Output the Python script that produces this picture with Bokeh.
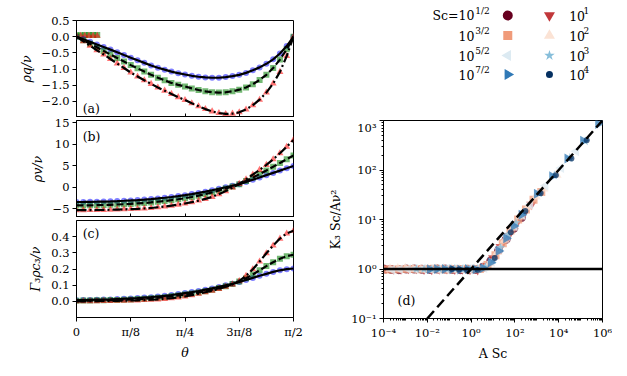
import numpy as np
from bokeh.plotting import figure
from bokeh.layouts import row, column
from bokeh.models import Range1d, FixedTicker, CustomJSTickFormatter, Label
from bokeh.core.properties import value
from bokeh.embed import file_html
from bokeh.resources import INLINE

FONT = "DejaVu Serif"

# ---------------- data: panels (a)-(c) ----------------
theta = np.linspace(0, np.pi / 2, 33)
theta_tick_labels = ["0", "π/8", "π/4", "3π/8", "π/2"]

q_blue = [0.0, -0.08, -0.16, -0.24, -0.32, -0.40, -0.48, -0.57, -0.65, -0.73, -0.81, -0.89, -0.96,
          -1.02, -1.08, -1.13, -1.17, -1.21, -1.24, -1.26, -1.27, -1.27, -1.25, -1.22, -1.18,
          -1.12, -1.04, -0.95, -0.84, -0.70, -0.52, -0.29, 0.0]
q_green = [0.0, -0.11, -0.22, -0.33, -0.44, -0.55, -0.66, -0.77, -0.88, -0.98, -1.08, -1.18, -1.27,
           -1.35, -1.43, -1.49, -1.54, -1.60, -1.65, -1.69, -1.72, -1.73, -1.72, -1.69, -1.64,
           -1.57, -1.47, -1.34, -1.18, -0.97, -0.71, -0.39, 0.0]
q_red = [0.0, -0.14, -0.28, -0.42, -0.55, -0.69, -0.83, -0.97, -1.11, -1.23, -1.35, -1.46, -1.57,
         -1.67, -1.77, -1.87, -1.96, -2.06, -2.15, -2.24, -2.31, -2.36, -2.39, -2.38, -2.34,
         -2.25, -2.12, -1.95, -1.73, -1.45, -1.09, -0.60, 0.0]
strip_theta = [0.0, 0.03, 0.06, 0.09, 0.12, 0.15]
strip_green = [0.04, 0.04, 0.05, 0.05, 0.05, 0.05]
strip_red = [0.03, 0.03, 0.03, 0.03, 0.03, 0.03]

v_blue = [-3.40, -3.39, -3.37, -3.34, -3.30, -3.25, -3.19, -3.12, -3.04, -2.95, -2.84, -2.72, -2.58,
          -2.42, -2.24, -2.04, -1.82, -1.57, -1.30, -1.00, -0.68, -0.34, 0.01, 0.37, 0.74,
          1.25, 1.77, 2.29, 2.82, 3.35, 3.88, 4.41, 4.95]
v_green = [-4.20, -4.19, -4.17, -4.14, -4.10, -4.05, -3.99, -3.92, -3.84, -3.74, -3.63, -3.50, -3.35,
           -3.18, -2.99, -2.77, -2.53, -2.25, -1.93, -1.57, -1.17, -0.74, -0.28, 0.21, 0.72,
           1.45, 2.25, 3.08, 3.92, 4.77, 5.64, 6.52, 7.40]
v_red = [-5.30, -5.29, -5.28, -5.26, -5.23, -5.20, -5.16, -5.11, -5.05, -4.98, -4.90, -4.80, -4.62,
         -4.45, -4.25, -4.02, -3.76, -3.45, -3.08, -2.68, -2.22, -1.60, -0.88, -0.06, 0.80,
         1.85, 2.95, 4.05, 5.20, 6.50, 7.90, 9.40, 11.00]

c_blue = [0.007, 0.008, 0.009, 0.010, 0.011, 0.012, 0.014, 0.016, 0.018, 0.020, 0.023, 0.026, 0.030,
          0.034, 0.039, 0.045, 0.051, 0.057, 0.064, 0.072, 0.080, 0.089, 0.099, 0.109, 0.120,
          0.132, 0.145, 0.158, 0.170, 0.182, 0.192, 0.199, 0.203]
c_green = [0.004, 0.005, 0.005, 0.006, 0.007, 0.008, 0.009, 0.010, 0.012, 0.014, 0.016, 0.019, 0.022,
           0.026, 0.031, 0.036, 0.042, 0.048, 0.055, 0.063, 0.072, 0.082, 0.093, 0.107, 0.123,
           0.143, 0.166, 0.192, 0.218, 0.242, 0.263, 0.279, 0.288]
c_red = [0.000, 0.000, 0.001, 0.001, 0.002, 0.002, 0.003, 0.004, 0.005, 0.006, 0.008, 0.010, 0.012,
         0.015, 0.019, 0.024, 0.030, 0.038, 0.047, 0.056, 0.065, 0.077, 0.090, 0.105, 0.125,
         0.158, 0.198, 0.246, 0.297, 0.345, 0.388, 0.420, 0.437]

# ---------------- data: panel (d) ----------------
sc_colors = ["#67001f", "#c1373a", "#f09b7a", "#fbe3d5", "#dceaf2", "#87beda", "#3079b6", "#053061"]
sc_markers = ["circle", "inverted_triangle", "square", "triangle", "triangle", "star", "triangle", "circle"]
sc_angles = [0.0, 0.0, 0.0, 0.0, np.pi / 2, 0.0, -np.pi / 2, 0.0]
sc_sizes = [10, 11, 9, 11, 11, 11, 11, 7]

d_x = [
    [1.0e-4, 2.2e-4, 5.0e-4, 1.1e-3, 2.5e-3, 5.6e-3, 1.3e-2, 2.8e-2, 6.3e-2, 0.14, 0.32, 0.71, 1.6, 3.5, 7.9, 18, 40, 89, 200],
    [1.3e-4, 2.8e-4, 6.3e-4, 1.4e-3, 3.2e-3, 7.1e-3, 1.6e-2, 3.5e-2, 7.9e-2, 0.18, 0.40, 0.89, 2.0, 4.5, 10, 22, 50, 112, 250, 560],
    [1.6e-4, 3.5e-4, 7.9e-4, 1.8e-3, 4.0e-3, 8.9e-3, 2.0e-2, 4.5e-2, 0.10, 0.22, 0.50, 1.1, 2.5, 5.6, 13, 28, 63, 141, 320, 710, 1600],
    [2.0e-4, 4.5e-4, 1.0e-3, 2.2e-3, 5.0e-3, 1.1e-2, 2.5e-2, 5.6e-2, 0.13, 0.28, 0.63, 1.4, 3.2, 7.1, 16, 35, 80, 178, 400, 890, 2000, 8000],
    [2.5e-4, 5.6e-4, 1.3e-3, 2.8e-3, 6.3e-3, 1.4e-2, 3.2e-2, 7.1e-2, 0.16, 0.35, 0.79, 1.8, 4.0, 8.9, 20, 45, 100, 224, 500, 2500, 1.3e4, 6.3e4],
    [3.2e-3, 7.1e-3, 1.6e-2, 3.5e-2, 7.9e-2, 0.18, 0.40, 0.89, 2.0, 4.5, 10, 22, 50, 112, 250, 1300, 6300, 3.2e4, 1.6e5],
    [1.3e-2, 2.8e-2, 6.3e-2, 0.14, 0.32, 0.71, 1.6, 3.5, 7.9, 18, 40, 89, 200, 1000, 5000, 2.5e4, 1.3e5, 6.3e5],
    [0.13, 0.28, 0.63, 2.0, 12, 65, 300, 1500, 7400, 3.8e4, 1.9e5, 1.0e6],
]
d_y = [
    [1.0, 0.98, 0.97, 1.0, 1.0, 0.99, 0.98, 1.0, 1.0, 0.98, 0.97, 0.99, 0.98, 1.08, 1.45, 2.4, 4.0, 6.6, 11],
    [1.03, 1.0, 1.0, 1.02, 1.02, 0.99, 0.98, 1.0, 1.01, 0.99, 1.0, 0.98, 0.97, 1.15, 1.65, 2.8, 4.6, 8.0, 13, 20],
    [0.98, 0.99, 1.0, 1.0, 0.99, 1.0, 1.01, 0.99, 0.98, 1.0, 1.0, 0.99, 1.0, 1.2, 1.9, 3.3, 6.0, 10, 16, 25, 36],
    [1.0, 1.01, 1.02, 0.99, 0.98, 1.0, 1.0, 1.01, 1.0, 0.99, 0.98, 1.0, 1.02, 1.3, 2.2, 3.9, 6.8, 11.5, 18, 29, 42, 80],
    [0.97, 0.99, 1.0, 1.0, 1.01, 0.99, 0.98, 1.0, 1.0, 1.0, 1.0, 1.0, 1.05, 1.4, 2.6, 4.6, 7.5, 12.5, 20, 48, 110, 240],
    [1.0, 0.99, 0.98, 1.0, 1.0, 1.01, 0.99, 1.0, 1.0, 1.1, 1.5, 2.7, 5.0, 8.6, 14, 34, 78, 175, 380],
    [0.99, 1.0, 1.0, 0.99, 0.98, 1.0, 0.99, 1.05, 1.35, 2.3, 4.2, 7.4, 12.5, 33, 75, 170, 390, 850],
    [1.0, 0.98, 0.97, 0.95, 1.66, 5.5, 14.8, 34, 78, 170, 400, 1000],
]
sqrt_line_x = [1.0e-2, 1.0e6]
sqrt_line_y = [1.0e-1, 1.0e3]
plateau_x = [1.0e-4, 1.0e6]
plateau_y = [1.0, 1.0]

leg1_base = ["Sc=10", "10", "10", "10"]
leg1_sup = ["1/2", "3/2", "5/2", "7/2"]
leg2_base = ["10", "10", "10", "10"]
leg2_sup = ["1", "2", "3", "4"]

# ---------------- helpers ----------------
def style_axes(p):
    p.grid.visible = False
    p.outline_line_color = "black"
    p.outline_line_width = 1
    p.outline_line_alpha = 1
    for ax in p.axis:
        ax.axis_line_color = "black"
        ax.major_tick_line_color = "black"
        ax.minor_tick_line_color = "black"
        ax.major_tick_in = 0
        ax.major_tick_out = 4
        ax.minor_tick_in = 0
        ax.minor_tick_out = 2
        ax.major_label_text_font = FONT
        ax.major_label_text_font_size = "11.5px"
        ax.major_label_text_color = "black"
        ax.major_label_standoff = 3
        ax.axis_label_text_font = FONT
        ax.axis_label_text_font_size = "12.5px"
        ax.axis_label_text_color = "black"
        ax.axis_label_standoff = 5


dec_fmt = CustomJSTickFormatter(code="""
const s = Math.abs(tick).toFixed(1);
return (tick < -1e-9 ? "\u2212" : "") + s;
""")
int_fmt = CustomJSTickFormatter(code="""
const s = Math.abs(tick).toFixed(0);
return (tick < -1e-9 ? "\u2212" : "") + s;
""")
theta_fmt = CustomJSTickFormatter(args=dict(labs=theta_tick_labels), code="""
const i = Math.round(tick / (Math.PI / 8));
return labs[i];
""")
blank_fmt = CustomJSTickFormatter(code="return '';")
pow_fmt = CustomJSTickFormatter(code="""
const sup = {"-":"\u207b","0":"\u2070","1":"\u00b9","2":"\u00b2","3":"\u00b3","4":"\u2074",
             "5":"\u2075","6":"\u2076","7":"\u2077","8":"\u2078","9":"\u2079"};
const e = Math.round(Math.log10(tick));
return "10" + String(e).split("").map(c => sup[c]).join("");
""")

theta_ticks = [0, np.pi / 8, np.pi / 4, 3 * np.pi / 8, np.pi / 2]


def left_panel(ylim, yticks, yfmt, ylabel, bottom, top, show_x):
    p = figure(frame_width=217, frame_height=97, output_backend="svg", toolbar_location=None,
               x_range=Range1d(0, np.pi / 2), y_range=Range1d(*ylim),
               min_border_left=76, min_border_right=30, min_border_top=top,
               min_border_bottom=bottom)
    style_axes(p)
    p.xaxis.ticker = FixedTicker(ticks=theta_ticks)
    p.yaxis.ticker = FixedTicker(ticks=yticks)
    p.yaxis.formatter = yfmt
    p.yaxis.axis_label = ylabel
    p.yaxis.axis_label_text_font_style = "italic"
    if show_x:
        p.xaxis.formatter = theta_fmt
        p.xaxis.axis_label = "θ"
        p.xaxis.axis_label_text_font_style = "italic"
        p.xaxis.axis_label_standoff = 3
    else:
        p.xaxis.formatter = blank_fmt
        p.xaxis.major_label_standoff = 0
        p.xaxis.major_label_text_font_size = "0px"
        p.xaxis.major_tick_in = 4
        p.xaxis.major_tick_out = 0
    return p


def add_series(p, yb, yg, yr):
    p.scatter(theta, yb, marker="circle", size=6, color="blue", alpha=0.5, line_width=0)
    p.scatter(theta, yg, marker="square", size=6, color="green", alpha=0.55, line_width=0)
    p.scatter(theta, yr, marker="triangle", size=7, color="red", alpha=0.55, line_width=0)
    p.line(theta, yb, line_color="black", line_width=2.2)
    p.line(theta, yg, line_color="black", line_width=2.2, line_dash="7 3")
    p.line(theta, yr, line_color="black", line_width=2.2, line_dash="10 3 2 3")


def panel_label(p, x, y, txt):
    p.add_layout(Label(x=x, y=y, text=txt, text_font=FONT, text_font_size="12.5px",
                       text_baseline="middle", text_color="black"))


pa = left_panel((-2.5, 0.5), [0.5, 0.0, -0.5, -1.0, -1.5, -2.0], dec_fmt, "ρq/ν", 0, 20, False)
pa.scatter(strip_theta, strip_green, marker="square", size=6, color="green", alpha=0.55, line_width=0)
pa.scatter(strip_theta, strip_red, marker="triangle", size=7, color="red", alpha=0.55, line_width=0)
add_series(pa, q_blue, q_green, q_red)
panel_label(pa, 0.045, -2.23, "(a)")

pb = left_panel((-7.0, 15.5), [-5, 0, 5, 10, 15], int_fmt, "ρv/ν", 0, 3, False)
add_series(pb, v_blue, v_green, v_red)
panel_label(pb, 0.045, 11.7, "(b)")

pc = left_panel((-0.1, 0.5), [0.0, 0.1, 0.2, 0.3, 0.4], dec_fmt, "Γ₃ρc₃/ν", 38, 3, True)
add_series(pc, c_blue, c_green, c_red)
panel_label(pc, 0.045, 0.42, "(c)")

left = column(pa, pb, pc, spacing=0)

# ---------------- legend figure ----------------
pl = figure(width=289, height=120, output_backend="svg", toolbar_location=None,
            x_range=Range1d(0, 289), y_range=Range1d(0, 120), min_border=0)
pl.axis.visible = False
pl.grid.visible = False
pl.outline_line_color = None
row_y = [105, 85, 65, 46]
for i in range(4):
    j1, j2 = 2 * i, 2 * i + 1
    pl.scatter([164], [row_y[i]], marker=sc_markers[j1], angle=sc_angles[j1], size=sc_sizes[j1],
               color=sc_colors[j1], line_width=0)
    pl.scatter([219], [row_y[i]], marker=sc_markers[j2], angle=sc_angles[j2], size=sc_sizes[j2],
               color=sc_colors[j2], line_width=0)
pl.text(x=[120] * 4, y=row_y, text=leg1_base, text_align="right", text_baseline="middle",
        text_font=value(FONT), text_font_size="12.5px", text_color="black")
pl.text(x=[121] * 4, y=[v + 5 for v in row_y], text=leg1_sup, text_align="left",
        text_baseline="middle", text_font=value(FONT), text_font_size="9px", text_color="black")
pl.text(x=[245] * 4, y=row_y, text=leg2_base, text_align="left", text_baseline="middle",
        text_font=value(FONT), text_font_size="12.5px", text_color="black")
pl.text(x=[264] * 4, y=[v + 5 for v in row_y], text=leg2_sup, text_align="left",
        text_baseline="middle", text_font=value(FONT), text_font_size="9px", text_color="black")

# ---------------- panel (d) ----------------
pd_ = figure(frame_width=219, frame_height=198, output_backend="svg", toolbar_location=None,
             x_axis_type="log", y_axis_type="log",
             x_range=Range1d(1e-4, 1e6), y_range=Range1d(1e-1, 1e3),
             min_border_left=60, min_border_right=10, min_border_top=0, min_border_bottom=36)
style_axes(pd_)
x_major = [1e-4, 1e-2, 1e0, 1e2, 1e4, 1e6]
x_minor = [m * 10.0 ** k for k in range(-4, 6) for m in range(1, 10) if not (m == 1 and k % 2 == 0)]
y_major = [1e-1, 1e0, 1e1, 1e2, 1e3]
y_minor = [m * 10.0 ** k for k in range(-1, 3) for m in range(2, 10)]
pd_.xaxis.ticker = FixedTicker(ticks=x_major, minor_ticks=x_minor)
pd_.yaxis.ticker = FixedTicker(ticks=y_major, minor_ticks=y_minor)
pd_.xaxis.formatter = pow_fmt
pd_.yaxis.formatter = pow_fmt
pd_.xaxis.axis_label = "A Sc"
pd_.yaxis.axis_label = "K₃ Sc/Aν²"
pd_.xaxis.axis_label_text_font_style = "normal"
pd_.yaxis.axis_label_text_font_style = "normal"
pd_.xaxis.axis_label_standoff = 3

for j in range(8):
    pd_.scatter(d_x[j], d_y[j], marker=sc_markers[j], angle=sc_angles[j], size=sc_sizes[j] - 1,
                color=sc_colors[j], alpha=0.75, line_width=0)
pd_.line(plateau_x, plateau_y, line_color="black", line_width=2.5)
pd_.line(sqrt_line_x, sqrt_line_y, line_color="black", line_width=2.5, line_dash="10 5")
panel_label(pd_, 4.4e-4, 0.23, "(d)")

right = column(pl, pd_, spacing=0)
layout = row(left, right, spacing=0)

open("out.html", "w").write(file_html(layout, INLINE))
